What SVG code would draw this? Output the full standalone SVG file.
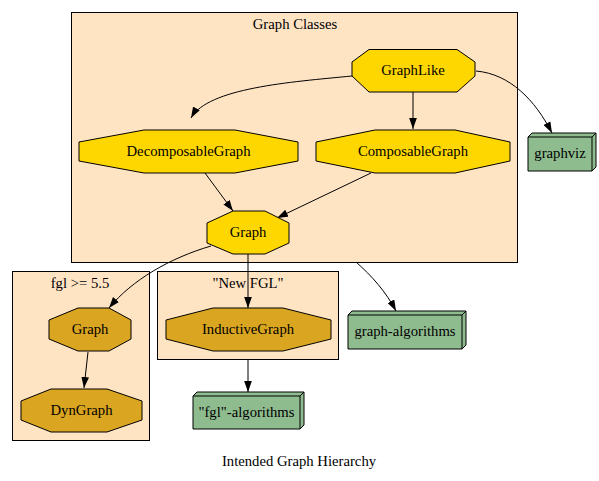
<svg xmlns="http://www.w3.org/2000/svg" width="599" height="481" viewBox="0 0 599 481">
<style>
text{font-family:"Liberation Serif","Times New Roman",serif;font-size:14.7px;fill:#000;text-anchor:middle}
.cl{fill:#ffe4c4;stroke:#000;stroke-width:1}
.y{fill:#ffd700;stroke:#000;stroke-width:1}
.d{fill:#daa520;stroke:#000;stroke-width:1}
.g{fill:#8fbc8f;stroke:#000;stroke-width:1}
.e{fill:none;stroke:#000;stroke-width:1}
</style>
<defs>
<marker id="ah" viewBox="0 0 10 7" refX="10" refY="3.5" markerWidth="11" markerHeight="8" markerUnits="userSpaceOnUse" orient="auto">
<path d="M0,0 L10,3.5 L0,7 Z" fill="#000"/>
</marker>
</defs>
<rect width="599" height="481" fill="#fff"/>
<g id="cluster_classes">
<rect class="cl" x="71.5" y="12.5" width="446" height="250"/>
<text x="295" y="29">Graph Classes</text>
</g>
<g id="cluster_fgl55">
<rect class="cl" x="12.5" y="271.5" width="137" height="169"/>
<text x="80" y="288">fgl &gt;= 5.5</text>
</g>
<g id="cluster_newfgl">
<rect class="cl" x="157.5" y="271.5" width="181" height="88"/>
<text x="248" y="288">"New FGL"</text>
</g>
<g id="edges">
<path class="e" d="M352,76 C290,82 208,88 191,118" marker-end="url(#ah)"/>
<path class="e" d="M413,92 L413,129" marker-end="url(#ah)"/>
<path class="e" d="M476,71 C510,74 535,100 552,133" marker-end="url(#ah)"/>
<path class="e" d="M205,173 L233,211" marker-end="url(#ah)"/>
<path class="e" d="M371,173 L277,218" marker-end="url(#ah)"/>
<path class="e" d="M211,246 C170,258 132,280 109,308" marker-end="url(#ah)"/>
<path class="e" d="M248,254 L248,308" marker-end="url(#ah)"/>
<path class="e" d="M356,262 C372,276 386,292 396,311" marker-end="url(#ah)"/>
<path class="e" d="M248,360 L248,392" marker-end="url(#ah)"/>
<path class="e" d="M88,352 L84,388" marker-end="url(#ah)"/>
</g>
<g id="GraphLike">
<polygon class="y" points="369,49.5 457,49.5 475,62 475,76 457,92 369,92 352,76 352,62"/>
<text x="413" y="75">GraphLike</text>
</g>
<g id="DecomposableGraph">
<polygon class="y" points="144,130 235,130 298,142 298,161 235,173 144,173 79,161 79,142"/>
<text x="188.5" y="156">DecomposableGraph</text>
</g>
<g id="ComposableGraph">
<polygon class="y" points="375,130 455,130 510,142 510,161 455,173 375,173 316,161 316,142"/>
<text x="413" y="156">ComposableGraph</text>
</g>
<g id="Graph">
<polygon class="y" points="233,211 265,211 289,223 289,243 265,254 233,254 207,243 207,223"/>
<text x="248" y="237">Graph</text>
</g>
<g id="graphviz">
<polygon class="g" points="528,137 532,133 596,133 596,167 592,171 528,171"/>
<polyline class="e" points="528,137 592,137 592,171"/>
<line class="e" x1="592" y1="137" x2="596" y2="133"/>
<text x="560" y="158">graphviz</text>
</g>
<g id="Graph_fgl">
<polygon class="d" points="78,308 109,308 131,320 131,339 109,351 78,351 49,339 49,320"/>
<text x="90" y="334">Graph</text>
</g>
<g id="DynGraph">
<polygon class="d" points="51,389 107,389 142,401 142,420 107,432 51,432 21,420 21,401"/>
<text x="81.5" y="415">DynGraph</text>
</g>
<g id="InductiveGraph">
<polygon class="d" points="213,308 283,308 331,320 331,339 283,351 213,351 166,339 166,320"/>
<text x="248" y="334">InductiveGraph</text>
</g>
<g id="fgl_algorithms">
<polygon class="g" points="193,396 197,392 304,392 304,425 300,429 193,429"/>
<polyline class="e" points="193,396 300,396 300,429"/>
<line class="e" x1="300" y1="396" x2="304" y2="392"/>
<text x="246.5" y="417">"fgl"-algorithms</text>
</g>
<g id="graph_algorithms">
<polygon class="g" points="348,315 352,311 466,311 466,345 462,349 348,349"/>
<polyline class="e" points="348,315 462,315 462,349"/>
<line class="e" x1="462" y1="315" x2="466" y2="311"/>
<text x="405" y="336">graph-algorithms</text>
</g>
<text x="299" y="466">Intended Graph Hierarchy</text>
</svg>
